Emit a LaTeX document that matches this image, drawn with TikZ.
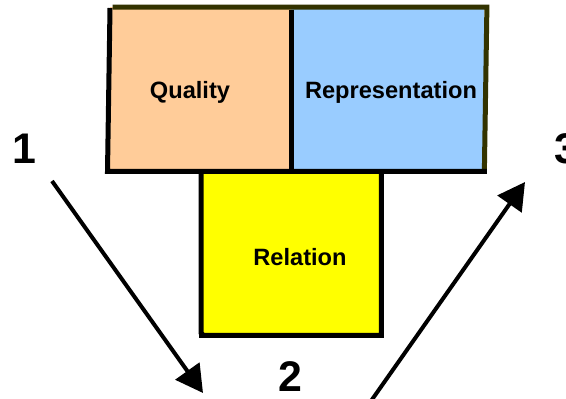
\documentclass[tikz,border=0pt]{standalone}
\usepackage{fontspec}
\setmainfont{Liberation Sans}
\usetikzlibrary{arrows.meta}
\definecolor{qual}{HTML}{FFCC99}
\definecolor{repr}{HTML}{99CCFF}
\definecolor{rel}{HTML}{FFFF00}
\definecolor{olive}{HTML}{333300}
\begin{document}
\begin{tikzpicture}[x=1bp,y=-1bp,
  boxstyle/.style={rectangle,inner sep=0pt,anchor=north west},
  edge/.style={line width=5bp},
  boxtext/.style={font=\fontsize{23.7}{26}\selectfont\bfseries,inner sep=0pt},
  numtext/.style={font=\fontsize{43}{46}\selectfont\bfseries,inner sep=0pt},
  bigarrow/.style={line width=4bp,-{Triangle[length=27bp,width=29bp]}}]
\useasboundingbox (0,0) rectangle (566,398);
\node[boxstyle,fill=qual,minimum width=181bp,minimum height=164bp] (q) at (110,7) {};
\node[boxstyle,fill=repr,minimum width=193bp,minimum height=164bp] (r) at (291,7) {};
\node[boxstyle,fill=rel,minimum width=180bp,minimum height=164bp] (l) at (201,171) {};
% borders of the top row
\draw[edge,olive] ([xshift=2.5bp]q.north west) -- ([xshift=2.5bp]r.north east) -- ([yshift=2.5bp]r.south east);
\draw[edge,black] ([yshift=-1bp]q.north west) -- ([xshift=-2.5bp]q.south west) -- ([xshift=2.5bp]r.south east);
\draw[edge,black] ([yshift=-2.5bp]q.north east) -- (q.south east);
% border of the relation box
\draw[edge,black] (l.north west) -- ([yshift=2.5bp]l.south west) -- ([xshift=2.5bp]l.south west) -- (l.south east) -- (l.north east);
\draw[edge,black] ([xshift=-2.5bp]l.south west) -- ([xshift=2.5bp]l.south east);
\node[boxtext] (qt) at (190,92) {Quality};
\node[boxtext] (rt) at (391,92) {Representation};
\node[boxtext] (lt) at (300,257) {Relation};
\node[numtext] (n1) at (24,149) {1};
\node[numtext] (n2) at (290,377) {2};
\node[numtext] (n3) at (566,149) {3};
\coordinate (a1s) at (52,181);
\coordinate (a1e) at (203,393);
\coordinate (a3s) at (371,401);
\coordinate (a3e) at (525,182);
\draw[bigarrow] (a1s) -- (a1e);
\draw[bigarrow] (a3s) -- (a3e);
\end{tikzpicture}
\end{document}
